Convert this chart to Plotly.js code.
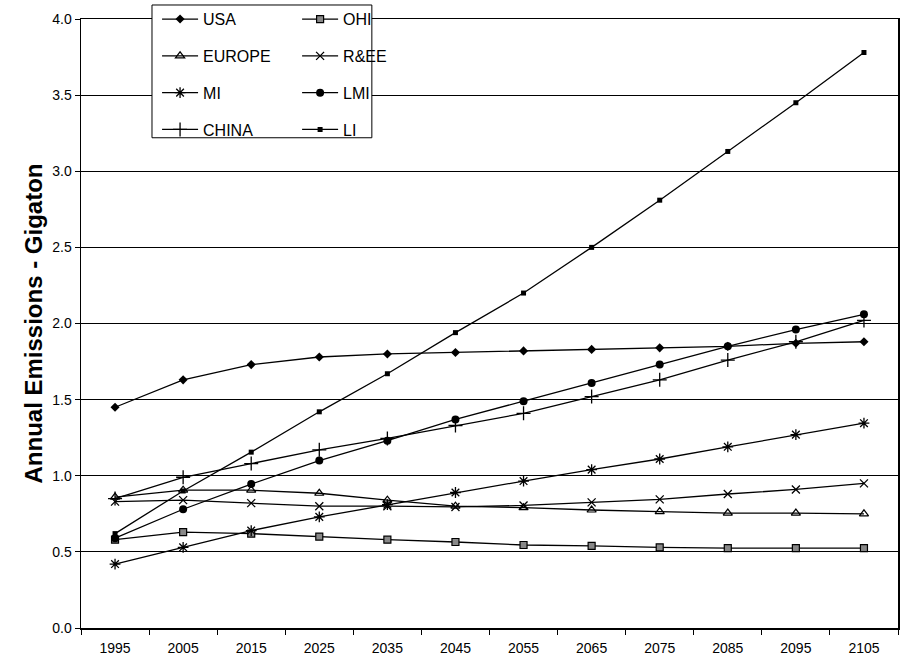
<!DOCTYPE html>
<html>
<head>
<meta charset="utf-8">
<script src="https://cdn.plot.ly/plotly-3.0.1.min.js"></script>
<style>html,body{margin:0;padding:0;background:#fff;}#chart{width:901px;height:658px;}</style>
</head>
<body>
<div id="chart"></div>
<script>
var years = ["1995","2005","2015","2025","2035","2045","2055","2065","2075","2085","2095","2105"];
var usa    = [1.45,1.63,1.73,1.78,1.80,1.81,1.82,1.83,1.84,1.85,1.87,1.88];
var ohi    = [0.58,0.63,0.62,0.60,0.58,0.565,0.545,0.54,0.53,0.525,0.525,0.525];
var europe = [0.86,0.905,0.905,0.885,0.84,0.80,0.79,0.775,0.765,0.755,0.755,0.75];
var ree    = [0.83,0.84,0.82,0.80,0.80,0.795,0.805,0.825,0.845,0.88,0.91,0.95];
var mi     = [0.42,0.53,0.64,0.73,0.81,0.89,0.965,1.04,1.11,1.19,1.27,1.345];
var lmi    = [0.59,0.78,0.945,1.10,1.23,1.37,1.49,1.61,1.73,1.85,1.96,2.06];
var china  = [0.85,0.99,1.08,1.17,1.245,1.33,1.41,1.52,1.63,1.76,1.88,2.02];
var li     = [0.62,0.90,1.155,1.42,1.67,1.94,2.20,2.50,2.81,3.13,3.45,3.78];

var names = ["USA","OHI","EUROPE","R&EE","MI","LMI","CHINA","LI"];
var series = [usa, ohi, europe, ree, mi, lmi, china, li];
var markers = [
  {symbol:"diamond", size:7, color:"#000"},
  {symbol:"square", size:7, color:"#888", line:{color:"#000", width:1.2}},
  {symbol:"triangle-up-open", size:8, color:"#000", line:{color:"#000", width:1.2}},
  {symbol:"x-thin-open", size:8, color:"#000", line:{color:"#000", width:1.3}},
  {symbol:"asterisk-open", size:9, color:"#000", line:{color:"#000", width:1.3}},
  {symbol:"circle", size:8, color:"#000"},
  {symbol:"cross-thin-open", size:10, color:"#000", line:{color:"#000", width:1.3}},
  {symbol:"square", size:5, color:"#000"}
];
var legendOf = ["legend","legend2","legend","legend2","legend","legend2","legend","legend2"];

var traces = series.map(function(s, i){
  return {
    x: years, y: s, name: names[i], type: "scatter", mode: "lines+markers",
    line: {color: "#000", width: 1.3},
    marker: markers[i],
    legend: legendOf[i],
    legendgroup: "g" + i
  };
});

var layout = {
  width: 901, height: 658,
  margin: {l: 81, r: 3, t: 18, b: 30},
  paper_bgcolor: "#fff", plot_bgcolor: "#fff",
  font: {family: "Liberation Sans, Arial, sans-serif", color: "#000"},
  showlegend: true,
  xaxis: {
    type: "category", range: [-0.5, 11.5], tickson: "boundaries",
    ticks: "outside", ticklen: 5, tickcolor: "#000", ticklabelstandoff: 7,
    showline: true, linecolor: "#000", linewidth: 1.5, mirror: true,
    showgrid: false, tickfont: {size: 14, color: "#000"}, fixedrange: true
  },
  yaxis: {
    range: [0, 4], dtick: 0.5, tickformat: ".1f",
    ticks: "outside", ticklen: 5, tickcolor: "#000",
    showline: true, linecolor: "#000", linewidth: 1.5, mirror: true,
    showgrid: true, gridcolor: "#000", gridwidth: 1, zeroline: false,
    tickfont: {size: 14, color: "#000"},
    title: {text: "Annual Emissions - Gigaton", font: {size: 24, color: "#000", weight: "bold"}, standoff: 3}
  },
  shapes: [{
    type: "rect", xref: "paper", yref: "paper",
    x0: 0.0869, x1: 0.356, y0: 0.805, y1: 1.023,
    fillcolor: "#fff", line: {color: "#000", width: 1}, layer: "above"
  }],
  legend: {
    x: 0.0931, y: 1.026, xanchor: "left", yanchor: "top",
    bgcolor: "rgba(0,0,0,0)", borderwidth: 0,
    font: {size: 16, color: "#000"}, itemwidth: 36,
    tracegroupgap: 13, traceorder: "grouped"
  },
  legend2: {
    x: 0.2645, y: 1.026, xanchor: "left", yanchor: "top",
    bgcolor: "rgba(0,0,0,0)", borderwidth: 0,
    font: {size: 16, color: "#000"}, itemwidth: 36,
    tracegroupgap: 13, traceorder: "grouped"
  }
};

Plotly.newPlot("chart", traces, layout, {displayModeBar: false, staticPlot: true});
</script>
</body>
</html>
